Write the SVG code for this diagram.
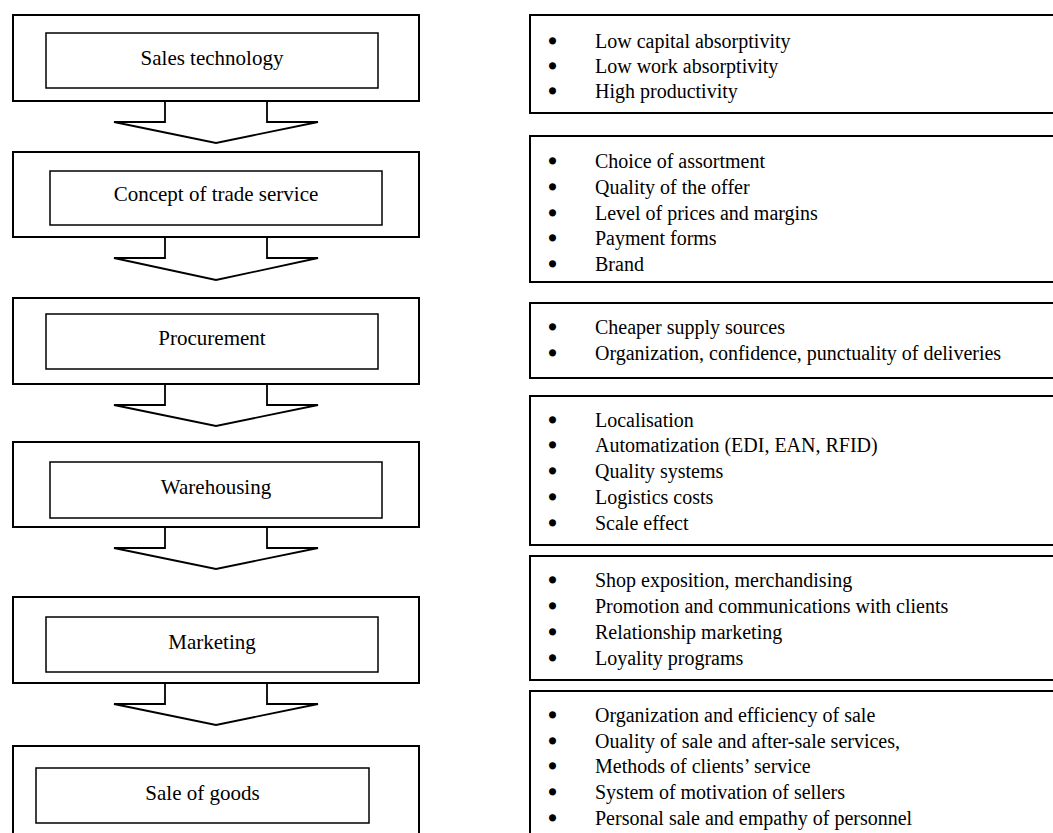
<svg xmlns="http://www.w3.org/2000/svg" width="1053" height="833" viewBox="0 0 1053 833">
<style>
  .outer { fill: #fff; stroke: #000; stroke-width: 2; }
  .inner { fill: #fff; stroke: #000; stroke-width: 1.5; }
  .panel { fill: #fff; stroke: #000; stroke-width: 2; }
  .arrow { fill: none; stroke: #000; stroke-width: 1.8; stroke-linejoin: miter; }
  .lbl { font-family: "Liberation Serif", "Times New Roman", serif; font-size: 21px; fill: #000; text-anchor: middle; }
  .item { font-family: "Liberation Serif", "Times New Roman", serif; font-size: 20px; fill: #000; }
  .b { font-weight: bold; stroke: #000; stroke-width: 1.6; stroke-linejoin: round; }
</style>
<rect width="1053" height="833" fill="#fff"/>

<g id="connectors">
  <polyline class="arrow" points="165,101 165,122 114,122 216,143 318,122 267,122 267,101"/>
  <polyline class="arrow" points="165,237 165,258 114,258 216,280 318,258 267,258 267,237"/>
  <polyline class="arrow" points="165,384 165,405 114,405 216,426 318,405 267,405 267,384"/>
  <polyline class="arrow" points="165,527 165,548 114,548 216,569 318,548 267,548 267,527"/>
  <polyline class="arrow" points="165,683 165,704 114,704 216,725 318,704 267,704 267,683"/>
</g>

<g id="node-sales-technology">
  <rect class="outer" x="13" y="15" width="406" height="86"/>
  <rect class="inner" x="46" y="33" width="332" height="55"/>
  <text class="lbl" x="212" y="65">Sales technology</text>
</g>
<g id="node-concept">
  <rect class="outer" x="13" y="152" width="406" height="85"/>
  <rect class="inner" x="50" y="171" width="332" height="54"/>
  <text class="lbl" x="216" y="201">Concept of trade service</text>
</g>
<g id="node-procurement">
  <rect class="outer" x="13" y="298" width="406" height="86"/>
  <rect class="inner" x="46" y="314" width="332" height="55"/>
  <text class="lbl" x="212" y="345">Procurement</text>
</g>
<g id="node-warehousing">
  <rect class="outer" x="13" y="442" width="406" height="85"/>
  <rect class="inner" x="50" y="462" width="332" height="56"/>
  <text class="lbl" x="216" y="494">Warehousing</text>
</g>
<g id="node-marketing">
  <rect class="outer" x="13" y="597" width="406" height="86"/>
  <rect class="inner" x="46" y="617" width="332" height="55"/>
  <text class="lbl" x="212" y="649">Marketing</text>
</g>
<g id="node-sale-of-goods">
  <rect class="outer" x="13" y="746" width="406" height="100"/>
  <rect class="inner" x="36" y="768" width="333" height="55"/>
  <text class="lbl" x="202.5" y="800">Sale of goods</text>
</g>

<g id="panel-1">
  <rect class="panel" x="530" y="15" width="540" height="98"/>
  <text class="item" y="48"><tspan class="b" x="549">•</tspan><tspan x="595">Low capital absorptivity</tspan></text>
  <text class="item" y="73"><tspan class="b" x="549">•</tspan><tspan x="595">Low work absorptivity</tspan></text>
  <text class="item" y="98"><tspan class="b" x="549">•</tspan><tspan x="595">High productivity</tspan></text>
</g>
<g id="panel-2">
  <rect class="panel" x="530" y="136" width="540" height="146"/>
  <text class="item" y="168"><tspan class="b" x="549">•</tspan><tspan x="595">Choice of assortment</tspan></text>
  <text class="item" y="194"><tspan class="b" x="549">•</tspan><tspan x="595">Quality of the offer</tspan></text>
  <text class="item" y="220"><tspan class="b" x="549">•</tspan><tspan x="595">Level of prices and margins</tspan></text>
  <text class="item" y="245"><tspan class="b" x="549">•</tspan><tspan x="595">Payment forms</tspan></text>
  <text class="item" y="271"><tspan class="b" x="549">•</tspan><tspan x="595">Brand</tspan></text>
</g>
<g id="panel-3">
  <rect class="panel" x="530" y="303" width="540" height="75"/>
  <text class="item" y="334"><tspan class="b" x="549">•</tspan><tspan x="595">Cheaper supply sources</tspan></text>
  <text class="item" y="360"><tspan class="b" x="549">•</tspan><tspan x="595">Organization, confidence, punctuality of deliveries</tspan></text>
</g>
<g id="panel-4">
  <rect class="panel" x="530" y="396" width="540" height="149"/>
  <text class="item" y="427"><tspan class="b" x="549">•</tspan><tspan x="595">Localisation</tspan></text>
  <text class="item" y="452"><tspan class="b" x="549">•</tspan><tspan x="595">Automatization (EDI, EAN, RFID)</tspan></text>
  <text class="item" y="478"><tspan class="b" x="549">•</tspan><tspan x="595">Quality systems</tspan></text>
  <text class="item" y="504"><tspan class="b" x="549">•</tspan><tspan x="595">Logistics costs</tspan></text>
  <text class="item" y="530"><tspan class="b" x="549">•</tspan><tspan x="595">Scale effect</tspan></text>
</g>
<g id="panel-5">
  <rect class="panel" x="530" y="556" width="540" height="124"/>
  <text class="item" y="587"><tspan class="b" x="549">•</tspan><tspan x="595">Shop exposition, merchandising</tspan></text>
  <text class="item" y="613"><tspan class="b" x="549">•</tspan><tspan x="595">Promotion and communications with clients</tspan></text>
  <text class="item" y="639"><tspan class="b" x="549">•</tspan><tspan x="595">Relationship marketing</tspan></text>
  <text class="item" y="665"><tspan class="b" x="549">•</tspan><tspan x="595">Loyality programs</tspan></text>
</g>
<g id="panel-6">
  <rect class="panel" x="530" y="691" width="540" height="160"/>
  <text class="item" y="722"><tspan class="b" x="549">•</tspan><tspan x="595">Organization and efficiency of sale</tspan></text>
  <text class="item" y="748"><tspan class="b" x="549">•</tspan><tspan x="595">Ouality of sale and after-sale services,</tspan></text>
  <text class="item" y="773"><tspan class="b" x="549">•</tspan><tspan x="595">Methods of clients’ service</tspan></text>
  <text class="item" y="799"><tspan class="b" x="549">•</tspan><tspan x="595">System of motivation of sellers</tspan></text>
  <text class="item" y="825"><tspan class="b" x="549">•</tspan><tspan x="595">Personal sale and empathy of personnel</tspan></text>
</g>
</svg>
